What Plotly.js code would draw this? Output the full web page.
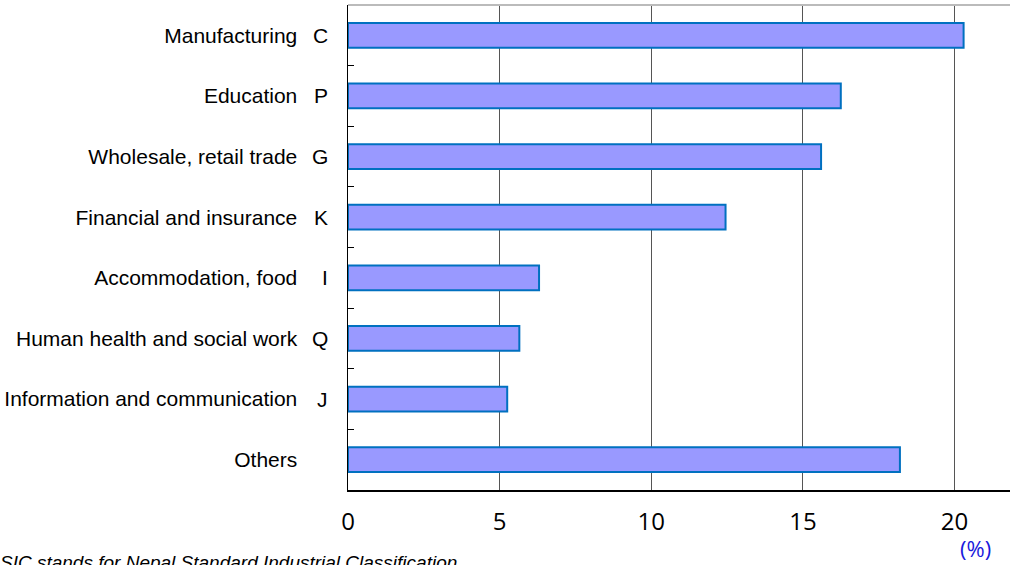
<!DOCTYPE html>
<html>
<head>
<meta charset="utf-8">
<script src="https://cdn.plot.ly/plotly-3.0.1.min.js"></script>
<style>html,body{margin:0;padding:0;background:#fff;}#chart{width:1010px;height:565px;}</style>
</head>
<body>
<div id="chart"></div>
<script>
var categories = ["Manufacturing", "Education", "Wholesale, retail trade", "Financial and insurance", "Accommodation, food", "Human health and social work", "Information and communication", "Others"];
var codes = ["C", "P", "G", "K", "I", "Q", "J", ""];
var values = [20.3, 16.25, 15.6, 12.45, 6.3, 5.65, 5.25, 18.2];
var xTicks = [0, 5, 10, 15, 20];

var trace = {
  type: "bar",
  orientation: "h",
  y: categories,
  x: values,
  width: 0.41,
  marker: { color: "#9999ff", line: { color: "#0070c0", width: 2 } },
  hoverinfo: "x+y"
};

var codeAnnotations = categories.map(function (c, i) {
  return {
    text: codes[i], xref: "paper", yref: "y", x: -18 / 662, y: c,
    xanchor: "right", yanchor: "middle", showarrow: false,
    font: { family: "Liberation Sans, Arial, sans-serif", size: 21, color: "#000" }
  };
}).filter(function (a) { return a.text; });

var layout = {
  width: 1010, height: 565,
  margin: { l: 348, r: 0, t: 5, b: 75 },
  paper_bgcolor: "#fff", plot_bgcolor: "#fff",
  showlegend: false,
  bargap: 0.59,
  xaxis: {
    range: [0, 21.83],
    tickvals: xTicks,
    ticktext: xTicks.map(String),
    showgrid: true, gridcolor: "#555", gridwidth: 1,
    zeroline: false,
    showline: true, linecolor: "#000", linewidth: 1.5,
    ticks: "",
    ticklabelstandoff: 10,
    tickfont: { family: "Open Sans, sans-serif", size: 24, color: "#000" },
    fixedrange: true
  },
  yaxis: {
    type: "category",
    categoryorder: "array",
    categoryarray: categories,
    autorange: "reversed",
    tickvals: categories,
    ticktext: categories,
    showline: true, linecolor: "#000", linewidth: 1.5,
    showgrid: false, zeroline: false,
    ticks: "inside", tickson: "boundaries", ticklen: 6, tickcolor: "#000", tickwidth: 1,
    ticklabelstandoff: 45,
    tickfont: { family: "Liberation Sans, Arial, sans-serif", size: 21, color: "#000" },
    fixedrange: true
  },
  shapes: [
    { type: "line", xref: "paper", yref: "paper", x0: 0, x1: 1, y0: 1, y1: 1, line: { color: "#bbb", width: 2 } }
  ],
  annotations: codeAnnotations.concat([
    { text: "(%)", xref: "x", yref: "paper", x: 20.68, y: -0.12, xanchor: "center", yanchor: "middle", showarrow: false, font: { family: "Open Sans, sans-serif", size: 22, color: "#1a1adc" } },
    { text: "<i>SIC stands for Nepal Standard Industrial Classification</i>", xref: "paper", yref: "paper", x: -348 / 662, xshift: -2, y: -0.124, xanchor: "left", yanchor: "top", showarrow: false, font: { family: "Liberation Sans, Arial, sans-serif", size: 19, color: "#000" } }
  ])
};

Plotly.newPlot("chart", [trace], layout, { displayModeBar: false, staticPlot: true });
</script>
</body>
</html>
